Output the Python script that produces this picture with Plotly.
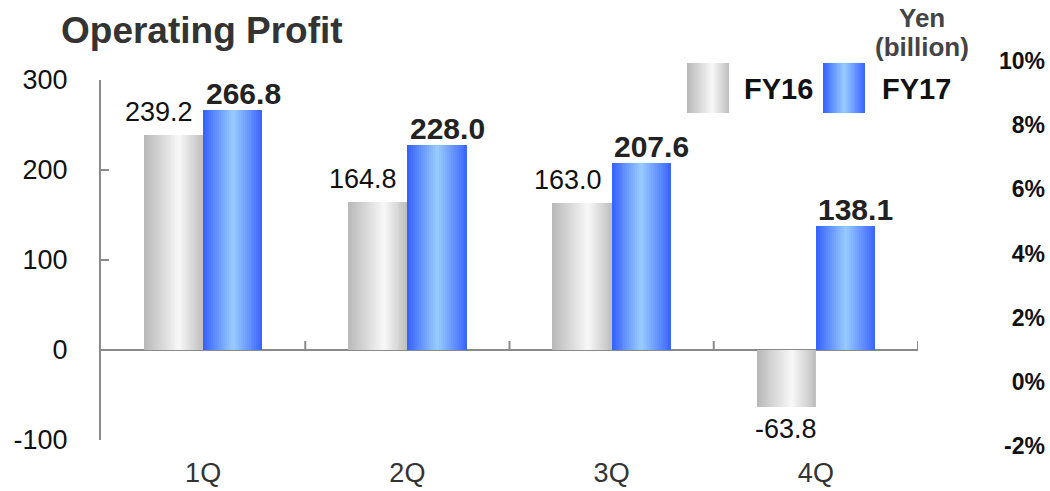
import plotly.graph_objects as go

# ---------------- data ----------------
categories = ['1Q', '2Q', '3Q', '4Q']
fy16 = [239.2, 164.8, 163.0, -63.8]
fy17 = [266.8, 228.0, 207.6, 138.1]
series_names = ['FY16', 'FY17']
left_ticks = [-100, 0, 100, 200, 300]
right_ticks = [-2, 0, 2, 4, 6, 8, 10]
title_text = 'Operating Profit'
unit_lines = ['Yen', '(billion)']

# ---------------- style ----------------
FONT = 'Liberation Sans, Arial, sans-serif'
W_PX, H_PX = 1050, 491
ML, MR, MT, MB = 101, 5, 60, 45
PW = W_PX - ML - MR
PH = H_PX - MT - MB
AXIS_GRAY = '#8a8a8a'

GRAY_STOPS = [(0.0, (184, 184, 184)), (0.6, (248, 248, 248)), (1.0, (190, 190, 190))]
BLUE_STOPS = [(0.0, (52, 96, 255)), (0.5, (153, 204, 255)), (1.0, (58, 100, 255))]
N_SLICES = 30
BAR_W = 0.29


def px2x(px):
    return (px - ML) / PW


def py2y(py):
    return (H_PX - MB - py) / PH


def grad(stops, t):
    for (t0, c0), (t1, c1) in zip(stops[:-1], stops[1:]):
        if t0 <= t <= t1:
            f = (t - t0) / (t1 - t0) if t1 > t0 else 0
            c = [round(a + (b - a) * f) for a, b in zip(c0, c1)]
            return 'rgb(%d,%d,%d)' % tuple(c)
    return 'rgb(%d,%d,%d)' % stops[-1][1]


fig = go.Figure()

# gradient bars built from slices (each slice is a bar of the data value)
for vals, stops, start in [(fy16, GRAY_STOPS, -BAR_W), (fy17, BLUE_STOPS, 0.0)]:
    for i in range(N_SLICES):
        off = start + i * BAR_W / N_SLICES
        width = BAR_W - i * BAR_W / N_SLICES
        t = (i + 0.5) / N_SLICES
        fig.add_trace(go.Bar(
            x=categories, y=vals, offset=off, width=width,
            marker=dict(color=grad(stops, t), line=dict(width=0)),
            showlegend=False, hoverinfo='skip'))

# invisible helper trace to activate the right-hand percentage axis
fig.add_trace(go.Scatter(x=[categories[0]], y=[0], xaxis='x', yaxis='y2', mode='markers',
                         marker=dict(opacity=0), showlegend=False, hoverinfo='skip'))

annotations = []
for c, v in zip(categories, fy16):
    if v >= 0:
        annotations.append(dict(x=c, y=v, xref='x', yref='y', text='%.1f' % v, showarrow=False,
                                xshift=-44, yshift=6, yanchor='bottom',
                                font=dict(family=FONT, size=27, color='#111')))
    else:
        annotations.append(dict(x=c, y=v, xref='x', yref='y', text='%.1f' % v, showarrow=False,
                                xshift=-30, yshift=-5, yanchor='top',
                                font=dict(family=FONT, size=27, color='#111')))
for c, v in zip(categories, fy17):
    annotations.append(dict(x=c, y=v, xref='x', yref='y', text='%.1f' % v, showarrow=False,
                            xshift=40, yshift=-2, yanchor='bottom',
                            font=dict(family=FONT, size=30, color='#222', weight='bold')))

# title
annotations.append(dict(x=px2x(59), y=py2y(31), xref='paper', yref='paper', text=title_text,
                        showarrow=False, xanchor='left', yanchor='middle',
                        font=dict(family=FONT, size=37, color='#333', weight='bold')))
# unit
for txt, pyc in zip(unit_lines, [18, 47]):
    annotations.append(dict(x=px2x(922), y=py2y(pyc), xref='paper', yref='paper', text=txt,
                            showarrow=False, xanchor='center', yanchor='middle',
                            font=dict(family=FONT, size=26, color='#444', weight='bold')))

shapes = []
# category separator ticks on the zero line (pixel-sized, anchored at y=0)
for k in range(1, len(categories) + 1):
    shapes.append(dict(type='line', xref='x', yref='y', x0=k - 0.5, x1=k - 0.5,
                       y0=0, y1=9, ysizemode='pixel', yanchor=0,
                       line=dict(color=AXIS_GRAY, width=2)))

# legend (gradient swatches)
for name, stops, x0, tx in [(series_names[0], GRAY_STOPS, 687, 742), (series_names[1], BLUE_STOPS, 823, 880)]:
    sw = 42
    for i in range(N_SLICES):
        t = (i + 0.5) / N_SLICES
        shapes.append(dict(type='rect', xref='paper', yref='paper',
                           x0=px2x(x0 + i * sw / N_SLICES), x1=px2x(x0 + sw),
                           y0=py2y(113), y1=py2y(63), line=dict(width=0),
                           fillcolor=grad(stops, t), layer='above'))
    annotations.append(dict(x=px2x(tx), y=py2y(89), xref='paper', yref='paper', text=name,
                            showarrow=False, xanchor='left', yanchor='middle',
                            font=dict(family=FONT, size=29, color='#111', weight='bold')))

xdom = [0, px2x(918)]
fig.update_layout(
    width=W_PX, height=H_PX,
    margin=dict(l=ML, r=MR, t=MT, b=MB, autoexpand=False),
    paper_bgcolor='white', plot_bgcolor='rgba(0,0,0,0)',
    barmode='overlay', bargap=0,
    showlegend=False,
    font=dict(family=FONT),
    xaxis=dict(domain=xdom, type='category', categoryorder='array', categoryarray=categories,
               range=[-0.5, 3.5], showgrid=False, showline=False, zeroline=False, ticks='',
               tickfont=dict(family=FONT, size=27, color='#333'), ticklabelstandoff=14,
               anchor='y', automargin=False),
    yaxis=dict(domain=[py2y(440), py2y(80)], range=[-100, 300], tickvals=left_ticks,
               ticktext=[str(v) for v in left_ticks],
               ticks='inside', ticklen=8, tickwidth=2, tickcolor=AXIS_GRAY,
               showline=True, linewidth=2, linecolor=AXIS_GRAY, showgrid=False,
               zeroline=True, zerolinecolor=AXIS_GRAY, zerolinewidth=2,
               tickfont=dict(family=FONT, size=27, color='#111'), ticklabelstandoff=26,
               anchor='x', automargin=False),
    yaxis2=dict(domain=[py2y(446), py2y(61)], range=[-2, 10], tickvals=right_ticks,
                ticktext=['%d%%' % v for v in right_ticks],
                anchor='free', position=1, side='left', ticks='', showline=False,
                showgrid=False, zeroline=False, automargin=False,
                tickfont=dict(family=FONT, size=23, color='#111', weight='bold')),
    annotations=annotations,
    shapes=shapes,
)

fig.write_html('out.html')
